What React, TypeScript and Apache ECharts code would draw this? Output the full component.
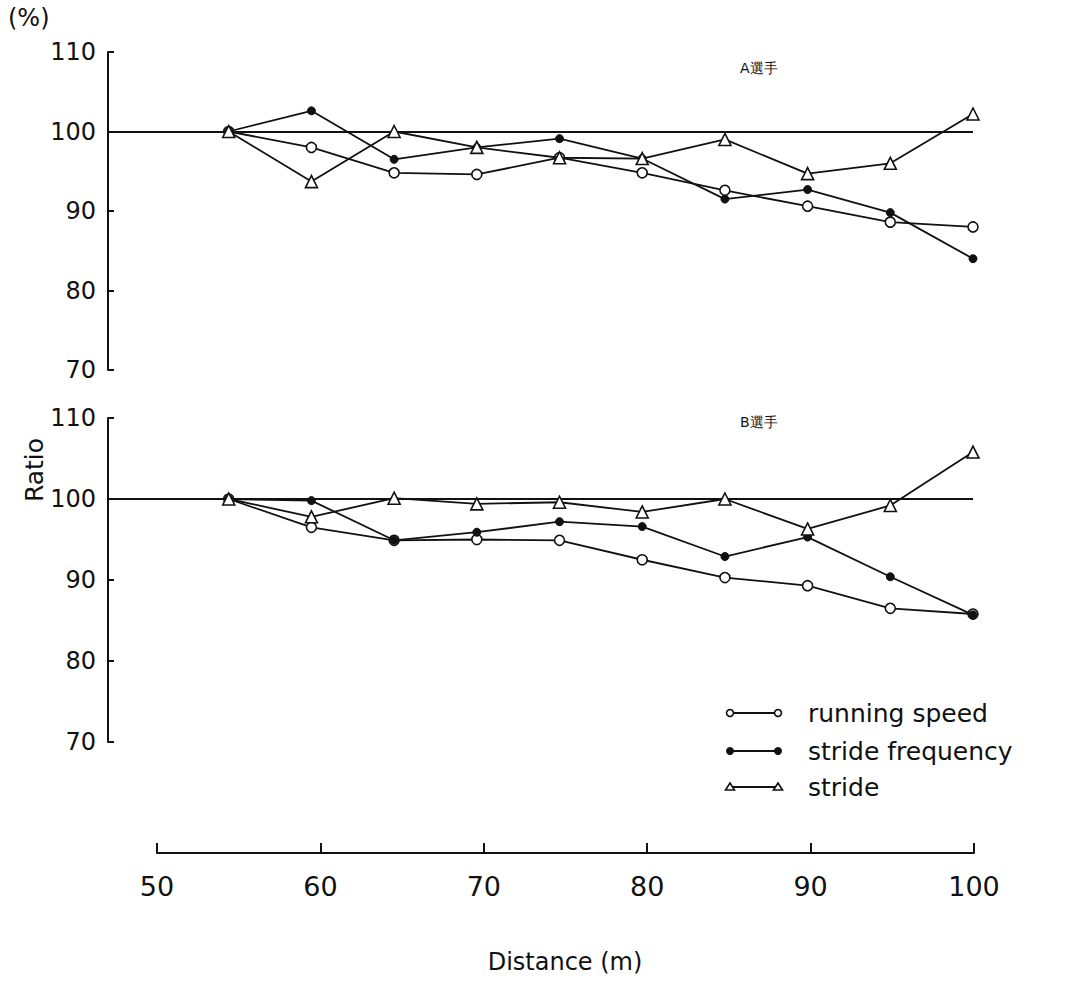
import React, { useEffect, useRef } from "react";
import * as echarts from "echarts";

const distances = [55, 60, 65, 70, 75, 80, 85, 90, 95, 100];
const speedA = [100, 98.0, 94.8, 94.6, 96.7, 94.8, 92.6, 90.6, 88.6, 88.0];
const freqA = [100, 102.6, 96.5, 98.0, 99.1, 96.6, 91.5, 92.7, 89.8, 84.0];
const strideA = [100, 93.7, 100, 98.0, 96.7, 96.6, 99.0, 94.7, 96.0, 102.2];
const speedB = [100, 96.5, 94.9, 95.0, 94.9, 92.5, 90.3, 89.3, 86.5, 85.8];
const freqB = [100, 99.8, 94.9, 95.9, 97.2, 96.6, 92.9, 95.3, 90.4, 85.7];
const strideB = [100, 97.8, 100.1, 99.4, 99.6, 98.4, 100.0, 96.3, 99.2, 105.8];
const yTicks = [70, 80, 90, 100, 110];
const xTicks = [50, 60, 70, 80, 90, 100];
const seriesNames = ["running speed", "stride frequency", "stride"];
const panelLabels = ["A選手", "B選手"];

const INK = "#111";
const FONT = "DejaVu Sans";

const pairs = (vals: number[]) => distances.map((d, i) => [d, vals[i]]);

const styleFor = (k: number) => {
  if (k === 0)
    return { symbol: "circle", symbolSize: 10, itemStyle: { color: "#fff", borderColor: INK, borderWidth: 1.6 } };
  if (k === 1)
    return { symbol: "circle", symbolSize: 8, itemStyle: { color: INK, borderColor: INK, borderWidth: 1 } };
  return { symbol: "triangle", symbolSize: 12, itemStyle: { color: "#fff", borderColor: INK, borderWidth: 1.6 } };
};

export default function App() {
  const ref = useRef<HTMLDivElement>(null);
  useEffect(() => {
    if (!ref.current) return;
    const chart = echarts.init(ref.current, null, { renderer: "svg" });
    const panelY = (idx: number) => ({
      type: "value",
      gridIndex: idx,
      min: 70,
      max: 110,
      interval: 10,
      axisLine: { show: true, lineStyle: { color: INK, width: 2 } },
      axisTick: { show: true, inside: true, length: 6, lineStyle: { color: INK, width: 2 } },
      axisLabel: { color: INK, fontSize: 24, fontFamily: FONT, margin: 12, formatter: (v: number) => (yTicks.includes(v) ? String(v) : "") },
      splitLine: { show: false },
    });
    const panelX = (idx: number) => ({
      type: "value",
      gridIndex: idx,
      min: 47.7,
      max: 100,
      show: false,
      splitLine: { show: false },
    });
    const panels = [
      [speedA, freqA, strideA],
      [speedB, freqB, strideB],
    ];
    const series: any[] = [];
    panels.forEach((p, pi) => {
      p.forEach((vals, k) => {
        series.push({
          type: "line",
          name: seriesNames[k],
          xAxisIndex: pi,
          yAxisIndex: pi,
          data: pairs(vals),
          lineStyle: { color: INK, width: 1.8 },
          z: 3 + k,
          ...styleFor(k),
          ...(k === 0
            ? {
                markLine: {
                  silent: true,
                  symbol: "none",
                  label: { show: false },
                  lineStyle: { color: INK, width: 2, type: "solid" },
                  data: [{ yAxis: 100 }],
                },
              }
            : {}),
        });
      });
    });
    series.push({ type: "line", xAxisIndex: 2, yAxisIndex: 2, data: [], showSymbol: false });

    const legendRows = [713, 751, 787];
    const legendGraphics: any[] = [];
    legendRows.forEach((y, k) => {
      legendGraphics.push({ type: "line", shape: { x1: 730, y1: y, x2: 778, y2: y }, style: { stroke: INK, lineWidth: 1.8 } });
      [730, 778].forEach((x) => {
        if (k === 0) legendGraphics.push({ type: "circle", shape: { cx: x, cy: y, r: 3.5 }, style: { fill: "#fff", stroke: INK, lineWidth: 1.6 }, z: 10 });
        else if (k === 1) legendGraphics.push({ type: "circle", shape: { cx: x, cy: y, r: 4 }, style: { fill: INK }, z: 10 });
        else legendGraphics.push({ type: "polygon", shape: { points: [[x, y - 4], [x - 4.5, y + 3], [x + 4.5, y + 3]] }, style: { fill: "#fff", stroke: INK, lineWidth: 1.6 }, z: 10 });
      });
      legendGraphics.push({ type: "text", x: 808, y, style: { text: seriesNames[k], fontSize: 25, fontFamily: FONT, fill: INK, verticalAlign: "middle" } });
    });

    chart.setOption({
      animation: false,
      backgroundColor: "#fff",
      grid: [
        { left: 108, right: 92, top: 52, height: 318 },
        { left: 108, right: 92, top: 418, height: 324 },
        { left: 157, right: 91, top: 780, height: 73 },
      ],
      xAxis: [
        panelX(0),
        panelX(1),
        {
          type: "value",
          gridIndex: 2,
          min: 50,
          max: 100,
          interval: 10,
          axisLine: { show: true, lineStyle: { color: INK, width: 2 } },
          axisTick: { show: true, inside: true, length: 10, lineStyle: { color: INK, width: 2 } },
          axisLabel: { color: INK, fontSize: 27, fontFamily: FONT, margin: 20, formatter: (v: number) => (xTicks.includes(v) ? String(v) : "") },
          splitLine: { show: false },
        },
      ],
      yAxis: [panelY(0), panelY(1), { type: "value", gridIndex: 2, show: false, splitLine: { show: false } }],
      series,
      graphic: [
        { type: "text", x: 8, y: 18, style: { text: "(%)", fontSize: 24, fontFamily: FONT, fill: INK, verticalAlign: "middle" } },
        { type: "text", x: 34, y: 470, rotation: Math.PI / 2, style: { text: "Ratio", fontSize: 25, fontFamily: FONT, fill: INK, align: "center", verticalAlign: "middle" } },
        { type: "text", x: 565, y: 962, style: { text: "Distance (m)", fontSize: 24, fontFamily: FONT, fill: INK, align: "center", verticalAlign: "middle" } },
        { type: "text", x: 740, y: 68, style: { text: panelLabels[0], fontSize: 14, fontFamily: FONT, fill: INK, verticalAlign: "middle" } },
        { type: "text", x: 740, y: 422, style: { text: panelLabels[1], fontSize: 14, fontFamily: FONT, fill: INK, verticalAlign: "middle" } },
        ...legendGraphics,
      ],
    });
    return () => chart.dispose();
  }, []);
  return <div ref={ref} style={{ position: "absolute", left: 0, top: 0, width: 1065, height: 987 }} />;
}
